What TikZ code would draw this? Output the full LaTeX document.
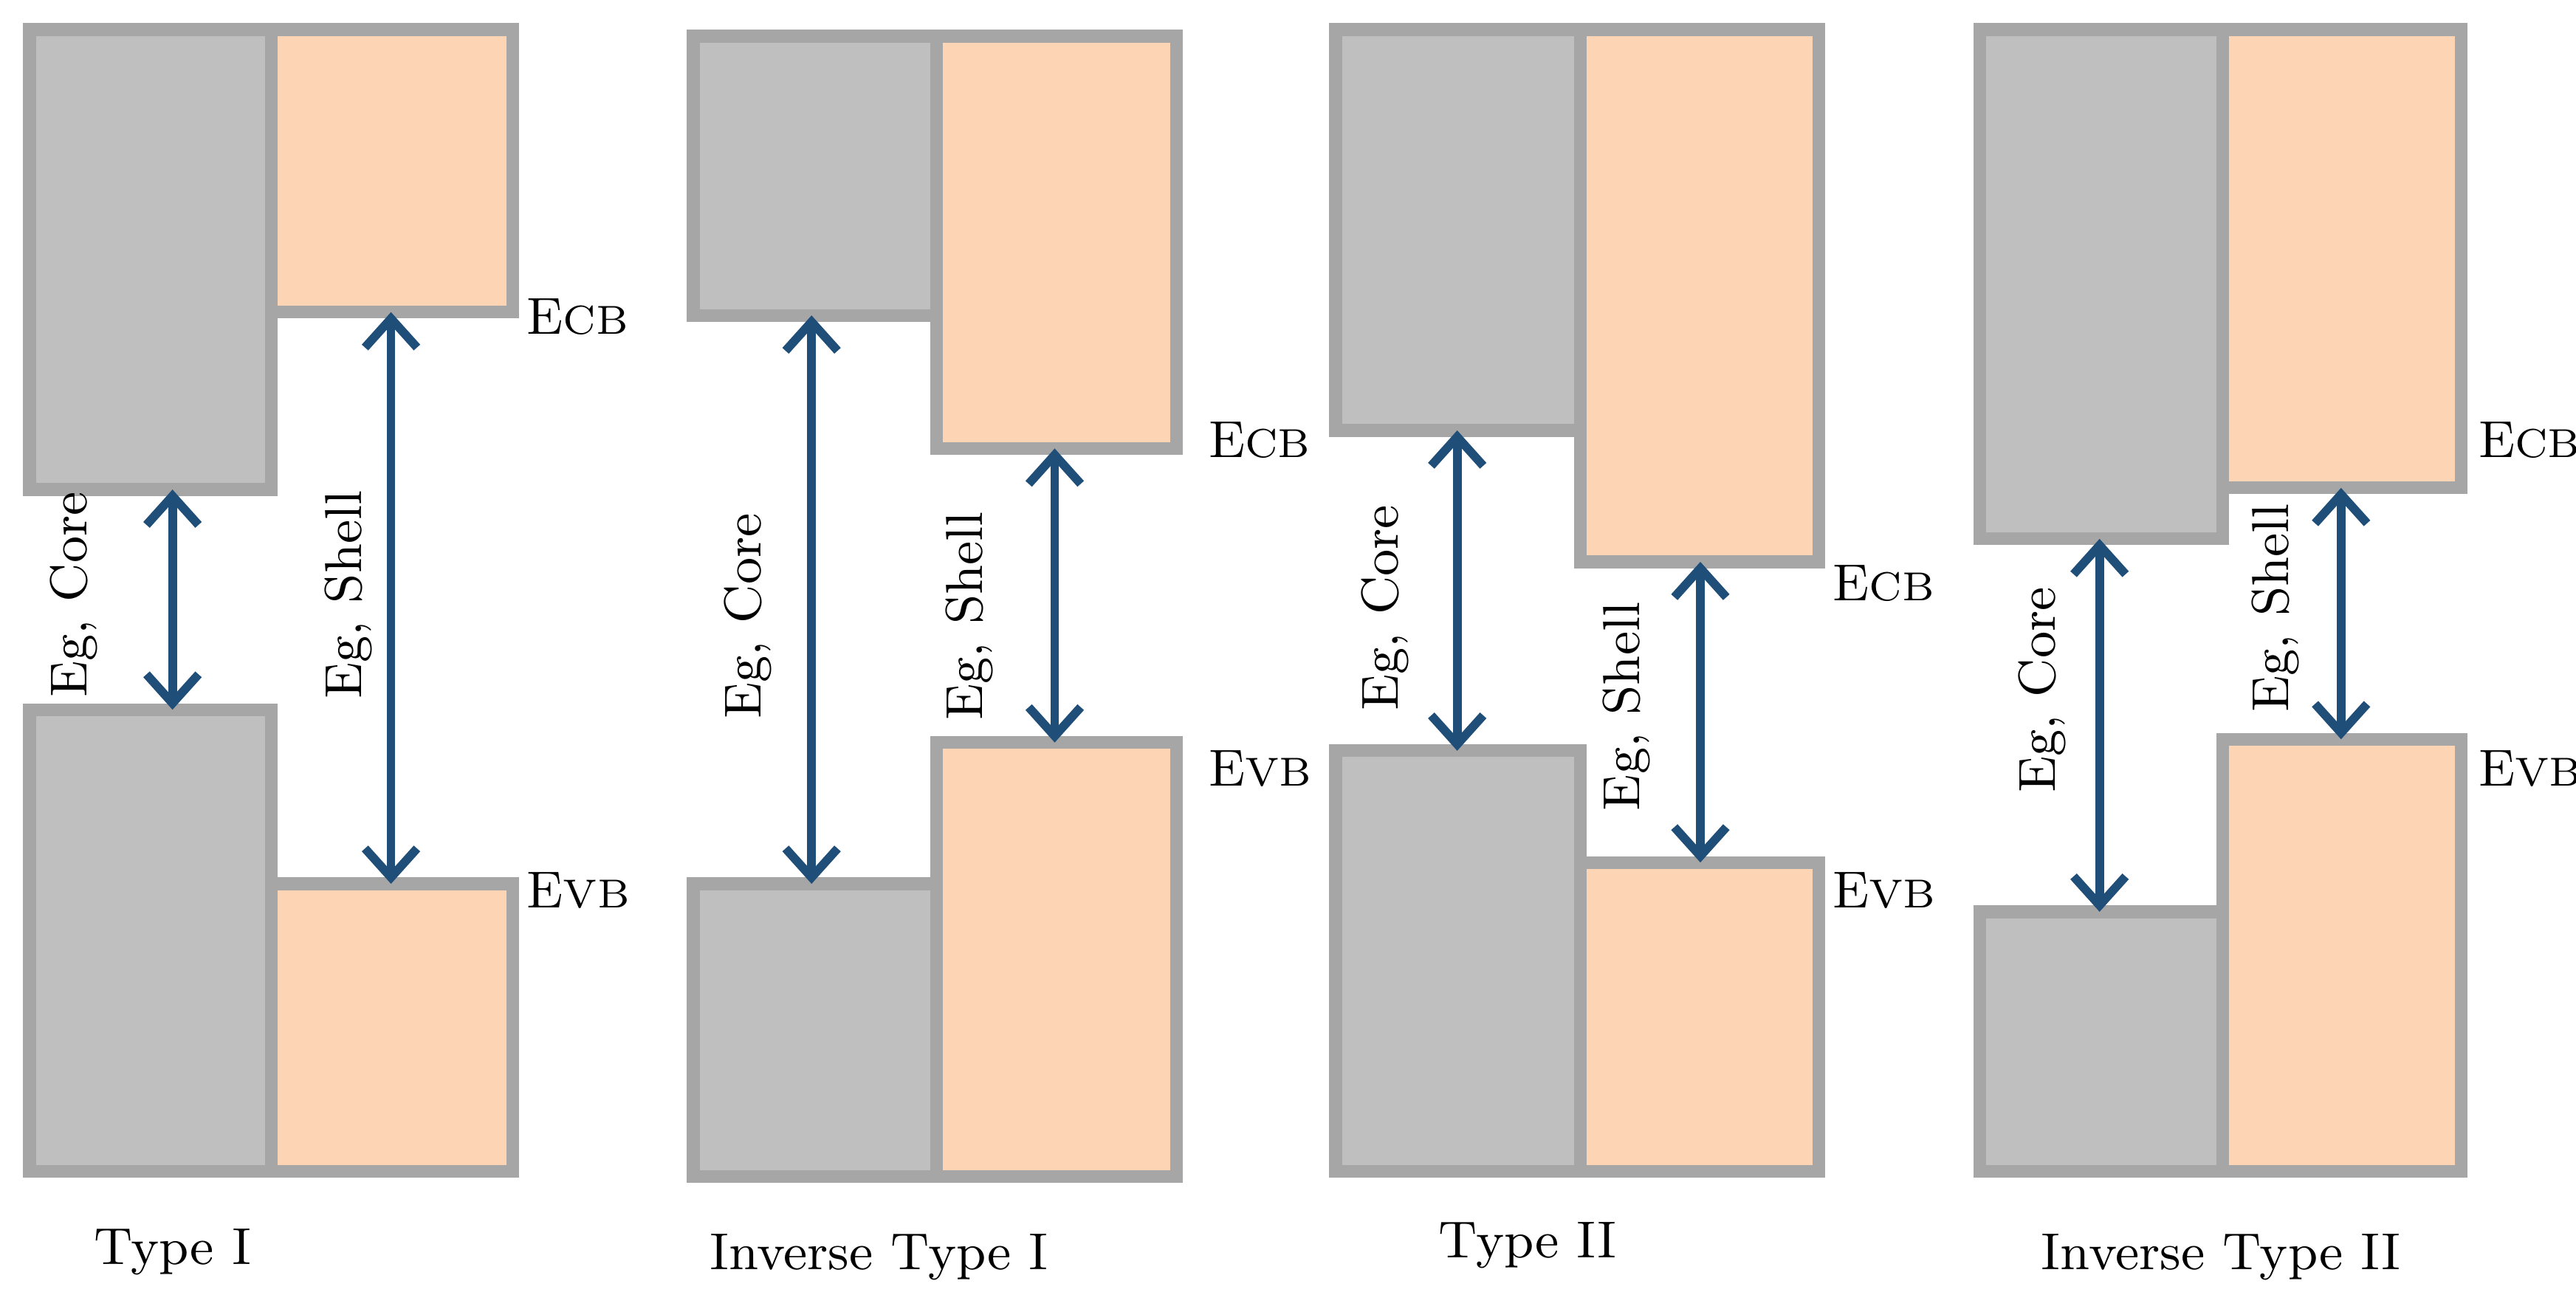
\documentclass[tikz,border=0pt]{standalone}
\usetikzlibrary{arrows.meta}
\definecolor{coregray}{HTML}{BFBFBF}
\definecolor{edgegray}{HTML}{A6A6A6}
\definecolor{shellorange}{HTML}{FDD5B4}
\definecolor{gapblue}{HTML}{1F4E79}
\tikzset{
  core/.style={fill=coregray, draw=edgegray, line width=2.2pt},
  shell/.style={fill=shellorange, draw=edgegray, line width=2.2pt},
  gap/.style={draw=gapblue, line width=1.5pt, {Straight Barb[length=5pt,width=9pt]}-{Straight Barb[length=5pt,width=9pt]}},
  lab/.style={font=\fontsize{9}{10}\selectfont, inner sep=0pt},
  lvl/.style={font=\fontsize{9}{10}\selectfont, anchor=west, inner sep=0pt}
}
\newcommand{\Ecb}{E{\fontsize{7}{8}\selectfont CB}}
\newcommand{\Evb}{E{\fontsize{7}{8}\selectfont VB}}
\begin{document}
\begin{tikzpicture}[x=0.01cm,y=-0.01cm]
    \useasboundingbox (0,0) rectangle (1568,798.6);

    % Type I
    \draw[core]  (18,18) rectangle (165,298);
    \draw[shell] (165,18) rectangle (312,190);
    \draw[core]  (18,432) rectangle (165,713);
    \draw[shell] (165,538) rectangle (312,713);
    \coordinate (a1) at (105,298); \coordinate (a2) at (105,432);
    \coordinate (b1) at (238,190); \coordinate (b2) at (238,538);
    \draw[gap] (a1) -- (a2);
    \draw[gap] (b1) -- (b2);
    \node[lab, rotate=90] (acore) at (45,362) {Eg, Core};
    \node[lab, rotate=90] (ashell) at (212,362) {Eg, Shell};
    \node[lvl] (acb) at (320,193) {\Ecb};
    \node[lvl] (avb) at (320,542) {\Evb};
    \node[lab] (atitle) at (105,762) {Type I};

    % Inverse Type I
    \draw[core]  (422,22) rectangle (570,192);
    \draw[shell] (570,22) rectangle (716,273);
    \draw[core]  (422,538) rectangle (570,716);
    \draw[shell] (570,452) rectangle (716,716);
    \coordinate (c1) at (494,192); \coordinate (c2) at (494,538);
    \coordinate (d1) at (642,273); \coordinate (d2) at (642,452);
    \draw[gap] (c1) -- (c2);
    \draw[gap] (d1) -- (d2);
    \node[lab, rotate=90] (bcore) at (455,375) {Eg, Core};
    \node[lab, rotate=90] (bshell) at (590,375) {Eg, Shell};
    \node[lvl] (bcb) at (735,268) {\Ecb};
    \node[lvl] (bvb) at (735,468) {\Evb};
    \node[lab] (btitle) at (535,765) {Inverse Type I};

    % Type II
    \draw[core]  (813,18) rectangle (962,262);
    \draw[shell] (962,18) rectangle (1107,342);
    \draw[core]  (813,457) rectangle (962,713);
    \draw[shell] (962,525) rectangle (1107,713);
    \coordinate (e1) at (887,262); \coordinate (e2) at (887,457);
    \coordinate (f1) at (1035,342); \coordinate (f2) at (1035,525);
    \draw[gap] (e1) -- (e2);
    \draw[gap] (f1) -- (f2);
    \node[lab, rotate=90] (ccore) at (843,370) {Eg, Core};
    \node[lab, rotate=90] (cshell) at (990,430) {Eg, Shell};
    \node[lvl] (ccb) at (1115,355) {\Ecb};
    \node[lvl] (cvb) at (1115,542) {\Evb};
    \node[lab] (ctitle) at (930,758) {Type II};

    % Inverse Type II
    \draw[core]  (1205,18) rectangle (1353,328);
    \draw[shell] (1353,18) rectangle (1498,297);
    \draw[core]  (1205,555) rectangle (1353,713);
    \draw[shell] (1353,450) rectangle (1498,713);
    \coordinate (g1) at (1278,328); \coordinate (g2) at (1278,555);
    \coordinate (h1) at (1425,297); \coordinate (h2) at (1425,450);
    \draw[gap] (g1) -- (g2);
    \draw[gap] (h1) -- (h2);
    \node[lab, rotate=90] (dcore) at (1243,420) {Eg, Core};
    \node[lab, rotate=90] (dshell) at (1385,370) {Eg, Shell};
    \node[lvl] (dcb) at (1508,268) {\Ecb};
    \node[lvl] (dvb) at (1508,468) {\Evb};
    \node[lab] (dtitle) at (1352,765) {Inverse Type II};
\end{tikzpicture}
\end{document}
